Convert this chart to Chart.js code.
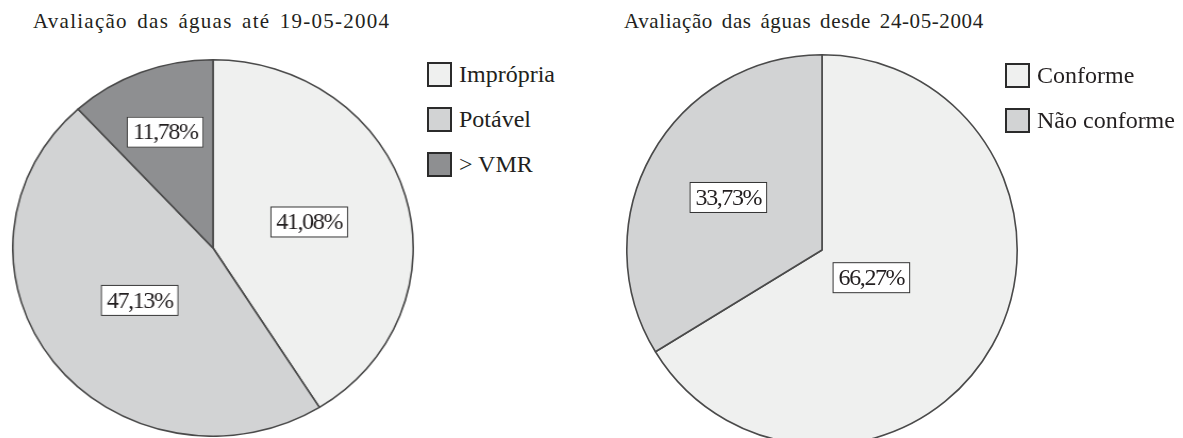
<!DOCTYPE html>
<html>
<head>
<meta charset="utf-8">
<script src="https://cdn.jsdelivr.net/npm/chart.js@4.4.1/dist/chart.umd.min.js"></script>
<style>
  html, body { margin: 0; padding: 0; background: #fff; }
  body { width: 1183px; height: 438px; position: relative; overflow: hidden;
         font-family: "Liberation Serif", "Times New Roman", serif; color: #231f20; }
  .title { position: absolute; font-size: 21px; white-space: nowrap; word-spacing: 3px; }
  canvas { position: absolute; }
  .legend { position: absolute; font-size: 24px; }
  .legend .row { display: flex; align-items: center; height: 25px; margin-bottom: 20px; white-space: nowrap; }
  .legend .sw { width: 21px; height: 21px; border: 2px solid #2b2b2b; margin-right: 7px; box-sizing: content-box; }
</style>
</head>
<body>
<div class="title" id="t1" style="left:33px; top:9px; letter-spacing:1.25px;"></div>
<div class="title" id="t2" style="left:624px; top:9px; letter-spacing:0.6px;"></div>
<canvas id="pieLeft"></canvas>
<canvas id="pieRight"></canvas>
<div class="legend" id="legLeft" style="left:427px; top:62px;"></div>
<div class="legend" id="legRight" style="left:1005px; top:63px;"></div>
<script>
// Left chart: water assessment up to 19-05-2004
const titleLeft = 'Avaliação das águas até 19-05-2004';
const labelsLeft = ['Imprópria', 'Potável', '> VMR'];
const valuesLeft = [41.08, 47.13, 11.78];

// Right chart: water assessment since 24-05-2004
const titleRight = 'Avaliação das águas desde 24-05-2004';
const labelsRight = ['Conforme', 'Não conforme'];
const valuesRight = [66.27, 33.73];

const LIGHT = '#eff0ef', MID = '#d2d3d4', DARK = '#8e8f91';
const colorsLeft = [LIGHT, MID, DARK];
const colorsRight = [LIGHT, MID];

document.getElementById('t1').textContent = titleLeft;
document.getElementById('t2').textContent = titleRight;

function fmt(v) {
  return v.toFixed(2).replace('.', ',') + '%';
}

// draws the boxed percentage labels inside the slices
const boxLabels = {
  id: 'boxLabels',
  afterDatasetsDraw(chart, args, opts) {
    const ctx = chart.ctx;
    const meta = chart.getDatasetMeta(0);
    const data = chart.data.datasets[0].data;
    ctx.save();
    ctx.font = '24px "Liberation Serif", serif';
    ctx.letterSpacing = '-1.4px';
    ctx.textAlign = 'center';
    ctx.textBaseline = 'middle';
    meta.data.forEach((arc, i) => {
      const mid = (arc.startAngle + arc.endAngle) / 2;
      const r = arc.outerRadius * opts.offsets[i];
      const x = arc.x + Math.cos(mid) * r;
      const y = arc.y + Math.sin(mid) * r;
      const txt = fmt(data[i]);
      ctx.save();
      ctx.translate(x, y);
      ctx.scale(1 / opts.stretch, 1);
      const w = ctx.measureText(txt).width + 12;
      const h = 31;
      ctx.fillStyle = '#fff';
      ctx.fillRect(-w / 2, -h / 2, w, h);
      ctx.strokeStyle = '#333';
      ctx.lineWidth = 1;
      ctx.strokeRect(-w / 2 + 0.5, -h / 2 + 0.5, w - 1, h - 1);
      ctx.fillStyle = '#231f20';
      ctx.fillText(txt, 0, 1);
      ctx.restore();
    });
    ctx.restore();
  }
};

function makePie(id, labels, values, colors, cx, cy, rx, ry, offsets) {
  const canvas = document.getElementById(id);
  const size = 2 * ry + 2;
  canvas.width = size;
  canvas.height = size;
  canvas.style.width = size + 'px';
  canvas.style.height = size + 'px';
  canvas.style.left = (cx - size / 2) + 'px';
  canvas.style.top = (cy - size / 2) + 'px';
  const stretch = rx / ry;
  canvas.style.transform = 'scaleX(' + stretch + ')';
  canvas.style.transformOrigin = '50% 50%';

  return new Chart(canvas, {
    type: 'pie',
    data: {
      labels: labels,
      datasets: [{
        data: values,
        backgroundColor: colors,
        borderColor: '#4a4a4a',
        borderWidth: 1.6
      }]
    },
    options: {
      responsive: false,
      animation: false,
      layout: { padding: 0 },
      plugins: {
        legend: { display: false },
        tooltip: { enabled: false },
        boxLabels: { offsets: offsets, stretch: stretch }
      }
    },
    plugins: [boxLabels]
  });
}

function makeLegend(id, labels, colors) {
  const el = document.getElementById(id);
  labels.forEach((l, i) => {
    const row = document.createElement('div');
    row.className = 'row';
    const sw = document.createElement('div');
    sw.className = 'sw';
    sw.style.background = colors[i];
    const tx = document.createElement('span');
    tx.textContent = l;
    row.appendChild(sw);
    row.appendChild(tx);
    el.appendChild(row);
  });
}

makePie('pieLeft', labelsLeft, valuesLeft, colorsLeft, 213, 248, 200, 188, [0.5, 0.46, 0.66]);
makePie('pieRight', labelsRight, valuesRight, colorsRight, 822, 250, 195, 195, [0.29, 0.55]);
makeLegend('legLeft', labelsLeft, colorsLeft);
makeLegend('legRight', labelsRight, colorsRight);
</script>
</body>
</html>
